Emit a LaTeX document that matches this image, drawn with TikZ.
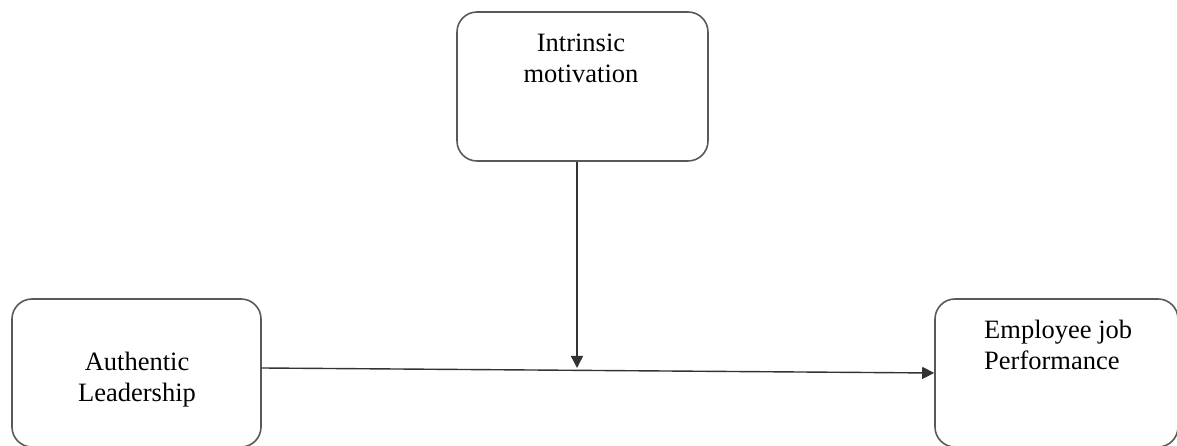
\documentclass[tikz,border=0pt]{standalone}
\usepackage{fontspec}
\setmainfont{Liberation Serif}
\usetikzlibrary{arrows.meta}
\tikzset{
  box/.style={draw=black!65, line width=1.6pt, rounded corners=20pt, inner sep=0pt},
  txt/.style={font=\fontsize{26.5}{31}\selectfont, inner sep=0pt, text=black},
  arr/.style={draw=black!80, line width=1.4pt, -{Triangle[length=12pt,width=12pt]}}
}
\begin{document}
\begin{tikzpicture}[x=1pt,y=1pt]
\useasboundingbox (0,0) rectangle (1177,446);
% boxes
\node[box, minimum width=251pt, minimum height=149pt] (im) at (582.5,359.5) {};
\node[box, minimum width=249pt, minimum height=148pt] (al) at (136.5,73) {};
\node[box, minimum width=243pt, minimum height=148pt] (ep) at (1056.5,73) {};
% texts (base anchor = baseline of last line)
\node[txt, align=center, anchor=base] (imt) at (581,363) {Intrinsic\\motivation};
\node[txt, align=center, anchor=base] (alt) at (137,44) {Authentic\\Leadership};
\node[txt, align=left, anchor=base west] (ept) at (984,76) {Employee job\\Performance};
% connectors
\coordinate (m) at (577,78);
\draw[arr] ([yshift=5pt]al.east) -- (ep.west);
\draw[arr] ([xshift=-5.5pt]im.south) -- (m);
\end{tikzpicture}
\end{document}
